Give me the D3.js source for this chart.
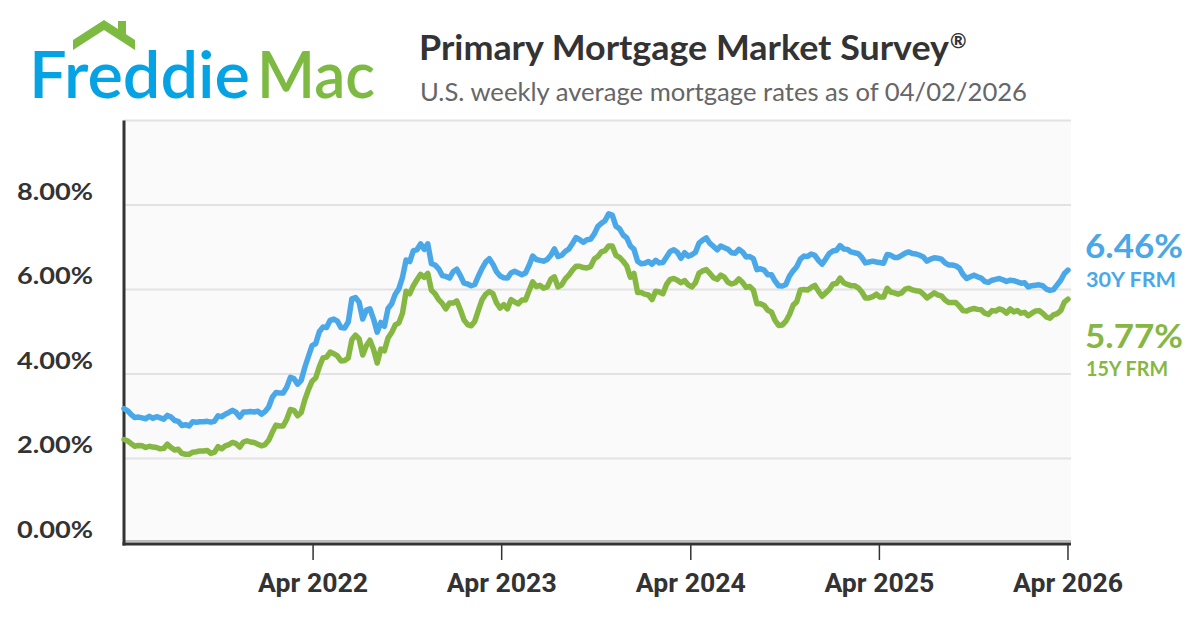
<!DOCTYPE html>
<html>
<head>
<meta charset="utf-8">
<script src="https://cdn.jsdelivr.net/npm/d3@7/dist/d3.min.js"></script>
<style>
  html, body { margin: 0; padding: 0; background: #ffffff; }
  svg { display: block; }
</style>
</head>
<body>
<svg id="chart" width="1200" height="630"></svg>
<script>
// ---------------- DATA ----------------
const startDate = "2021-04-01";   // first weekly observation (Thursday)
const lastDateLabel = "04/02/2026";

// 30-year fixed rate mortgage, weekly (%)
const rate30_2021 = [3.18,3.13,3.04,2.97,2.98,2.96,2.94,3.00,2.95,2.99,2.96,2.93,3.02,2.98,2.90,2.88,2.78,2.80,2.77,2.87,2.86,2.87,2.87,2.88,2.86,2.88,3.01,2.99,3.05,3.09,3.14,3.09,2.98,3.10,3.10,3.11,3.10,3.12,3.05,3.11];
const rate30_2022 = [3.22,3.45,3.56,3.55,3.55,3.69,3.92,3.89,3.76,3.85,4.16,4.42,4.67,4.72,5.00,5.11,5.10,5.27,5.30,5.25,5.10,5.09,5.23,5.78,5.81,5.70,5.30,5.51,5.54,5.30,4.99,5.22,5.13,5.55,5.66,5.89,6.02,6.29,6.70,6.66,6.92,6.94,7.08,6.95,7.08,6.61,6.58,6.49,6.33,6.31,6.27,6.42];
const rate30_2023 = [6.48,6.33,6.15,6.13,6.09,6.12,6.32,6.50,6.65,6.73,6.60,6.42,6.32,6.28,6.27,6.39,6.43,6.39,6.35,6.39,6.57,6.79,6.71,6.69,6.67,6.71,6.81,6.96,6.78,6.81,6.90,6.96,7.09,7.23,7.18,7.12,7.18,7.19,7.31,7.49,7.57,7.63,7.79,7.76,7.50,7.44,7.29,7.22,7.03,6.95,6.67,6.61];
const rate30_2024 = [6.62,6.66,6.60,6.69,6.63,6.64,6.77,6.90,6.94,6.88,6.74,6.87,6.79,6.82,6.88,7.10,7.17,7.22,7.09,7.02,6.94,7.03,6.99,6.95,6.87,6.86,6.95,6.89,6.77,6.78,6.73,6.47,6.49,6.46,6.35,6.35,6.20,6.09,6.08,6.12,6.32,6.44,6.54,6.72,6.79,6.78,6.84,6.81,6.69,6.60,6.72,6.85];
const rate30_2025 = [6.91,6.93,7.04,6.96,6.95,6.89,6.87,6.85,6.76,6.63,6.65,6.67,6.65,6.64,6.62,6.83,6.81,6.76,6.76,6.81,6.86,6.89,6.85,6.84,6.81,6.77,6.67,6.72,6.75,6.74,6.72,6.63,6.58,6.58,6.56,6.50,6.35,6.26,6.30,6.34,6.30,6.27,6.19,6.17,6.22,6.24,6.26,6.23,6.19,6.22,6.21,6.18,6.15];
const rate30_2026 = [6.16,6.06,6.09,6.10,6.11,6.09,6.01,5.98,6.00,6.11,6.22,6.38,6.46];

// 15-year fixed rate mortgage, weekly (%)
const rate15_2021 = [2.45,2.42,2.35,2.29,2.31,2.30,2.26,2.29,2.27,2.26,2.23,2.24,2.34,2.26,2.20,2.22,2.12,2.10,2.10,2.15,2.16,2.18,2.18,2.19,2.12,2.15,2.28,2.23,2.30,2.33,2.38,2.35,2.27,2.39,2.42,2.39,2.38,2.34,2.30,2.33];
const rate15_2022 = [2.43,2.62,2.79,2.77,2.77,2.93,3.16,3.14,3.01,3.09,3.39,3.63,3.83,3.91,4.17,4.38,4.40,4.52,4.48,4.43,4.31,4.32,4.38,4.81,4.92,4.83,4.45,4.67,4.80,4.58,4.26,4.59,4.55,4.85,4.98,5.16,5.21,5.44,5.96,5.90,6.09,6.23,6.36,6.29,6.38,5.98,5.90,5.76,5.67,5.54,5.68,5.68];
const rate15_2023 = [5.73,5.52,5.28,5.17,5.14,5.25,5.51,5.76,5.89,5.95,5.90,5.68,5.56,5.64,5.54,5.76,5.71,5.66,5.75,5.75,5.97,6.18,6.07,6.10,6.03,6.06,6.24,6.30,6.06,6.11,6.25,6.34,6.46,6.55,6.55,6.52,6.51,6.54,6.72,6.78,6.89,6.92,7.03,7.03,6.81,6.76,6.67,6.56,6.29,6.38,5.93,5.93];
const rate15_2024 = [5.89,5.87,5.76,5.96,5.94,5.90,6.12,6.24,6.26,6.22,6.16,6.21,6.11,6.06,6.16,6.39,6.44,6.47,6.38,6.28,6.24,6.34,6.29,6.17,6.13,6.16,6.25,6.17,6.05,6.07,5.99,5.66,5.66,5.62,5.51,5.47,5.27,5.15,5.16,5.25,5.41,5.63,5.71,5.99,6.00,5.99,6.05,6.10,5.96,5.84,5.92,6.00];
const rate15_2025 = [6.13,6.14,6.27,6.16,6.12,6.09,6.09,6.04,5.94,5.80,5.80,5.83,5.89,5.82,5.82,6.03,5.94,5.92,5.89,5.92,6.01,6.03,5.99,5.97,5.96,5.89,5.80,5.86,5.92,5.87,5.85,5.75,5.69,5.69,5.69,5.60,5.50,5.49,5.53,5.55,5.53,5.52,5.44,5.41,5.50,5.49,5.54,5.51,5.44,5.54,5.47,5.50,5.44];
const rate15_2026 = [5.46,5.38,5.44,5.49,5.50,5.44,5.35,5.32,5.40,5.43,5.50,5.70,5.77];

const yTickValues = [0, 2, 4, 6, 8];
const xTickDates = ["2022-04-01","2023-04-01","2024-04-01","2025-04-01","2026-04-01"];
const seriesNames = ["30Y FRM", "15Y FRM"];

// ---------------- BUILD ----------------
const rate30 = [].concat(rate30_2021, rate30_2022, rate30_2023, rate30_2024, rate30_2025, rate30_2026);
const rate15 = [].concat(rate15_2021, rate15_2022, rate15_2023, rate15_2024, rate15_2025, rate15_2026);
const parse = d3.utcParse("%Y-%m-%d");
const t0 = parse(startDate);
const dates = rate30.map((_, i) => d3.utcDay.offset(t0, 7 * i));
const data = dates.map((d, i) => ({ date: d, r30: rate30[i], r15: rate15[i] }));

const BLUE = "#4aa8e8", GREEN = "#86b743";
const LOGO_BLUE = "#05a3e4", LOGO_GREEN = "#7cba42";
const FONT = "Lato, 'Open Sans', sans-serif";

const svg = d3.select("#chart");

// ---------- logo ----------
const logo = svg.append("g");
logo.append("path")
  .attr("d", "M73,40 L104,20 L135,40 L135,50 L104,30 L73,50 Z")
  .attr("fill", LOGO_GREEN);
logo.append("rect").attr("x", 118).attr("y", 21).attr("width", 8).attr("height", 14).attr("fill", LOGO_GREEN);
logo.append("text").text("Freddie")
  .attr("x", 29).attr("y", 98)
  .attr("font-family", FONT).attr("font-size", 66).attr("font-weight", 600)
  .attr("textLength", 221).attr("lengthAdjust", "spacingAndGlyphs")
  .attr("fill", LOGO_BLUE);
logo.append("text").text("Mac")
  .attr("x", 257).attr("y", 98)
  .attr("font-family", FONT).attr("font-size", 66).attr("font-weight", 600)
  .attr("textLength", 118).attr("lengthAdjust", "spacingAndGlyphs")
  .attr("fill", LOGO_GREEN);

// ---------- titles ----------
svg.append("text")
  .attr("x", 419).attr("y", 60)
  .attr("font-family", FONT).attr("font-size", 34).attr("font-weight", 700)
  .attr("textLength", 530).attr("lengthAdjust", "spacingAndGlyphs")
  .attr("fill", "#333333")
  .text("Primary Mortgage Market Survey");
svg.append("text")
  .attr("x", 950).attr("y", 48)
  .attr("font-family", FONT).attr("font-size", 20).attr("font-weight", 700)
  .attr("fill", "#333333")
  .text("®");

svg.append("text")
  .attr("x", 420).attr("y", 101)
  .attr("font-family", FONT).attr("font-size", 25).attr("font-weight", 400)
  .attr("textLength", 607).attr("lengthAdjust", "spacingAndGlyphs")
  .attr("fill", "#666666")
  .text("U.S. weekly average mortgage rates as of " + lastDateLabel);

// ---------- scales ----------
const plotLeft = 124, plotRight = 1071, plotTop = 120.5, plotBottom = 543;
const x = d3.scaleUtc()
  .domain([t0, dates[dates.length - 1]])
  .range([plotLeft, 1068]);
const y = d3.scaleLinear().domain([0, 10]).range([plotBottom, plotTop]);

// plot background
svg.append("rect")
  .attr("x", plotLeft).attr("y", plotTop)
  .attr("width", plotRight - plotLeft).attr("height", plotBottom - plotTop)
  .attr("fill", "#fafafa");

// gridlines
svg.append("g").selectAll("line")
  .data([2, 4, 6, 8, 10])
  .join("line")
  .attr("x1", plotLeft).attr("x2", plotRight)
  .attr("y1", d => y(d)).attr("y2", d => y(d))
  .attr("stroke", "#e2e2e2").attr("stroke-width", 2);
svg.append("line")
  .attr("x1", plotLeft).attr("x2", plotRight)
  .attr("y1", plotBottom - 2).attr("y2", plotBottom - 2)
  .attr("stroke", "#bdbdbd").attr("stroke-width", 2);

// y axis
const yAxis = svg.append("g")
  .attr("transform", `translate(${plotLeft},0)`)
  .call(d3.axisLeft(y).tickValues(yTickValues).tickSize(0).tickPadding(0)
    .tickFormat(d => d.toFixed(2) + "%"));
yAxis.select(".domain").remove();
yAxis.selectAll("text")
  .attr("x", -31).attr("dy", null).attr("y", -6)
  .attr("font-family", FONT).attr("font-size", 23).attr("font-weight", 700)
  .attr("textLength", 76).attr("lengthAdjust", "spacingAndGlyphs")
  .attr("fill", "#333333");

// x axis
const xAxis = svg.append("g")
  .attr("transform", `translate(0,${plotBottom + 1})`)
  .call(d3.axisBottom(x).tickValues(xTickDates.map(parse)).tickSize(16).tickPadding(0)
    .tickFormat(d3.utcFormat("Apr %Y")));
xAxis.select(".domain").remove();
xAxis.selectAll(".tick line").attr("stroke", "#333333").attr("stroke-width", 1.5);
xAxis.selectAll("text")
  .attr("y", 48).attr("dy", null)
  .attr("font-family", "Roboto, 'Open Sans', sans-serif").attr("font-size", 25).attr("font-weight", 700)
  .attr("textLength", 110).attr("lengthAdjust", "spacingAndGlyphs")
  .attr("fill", "#333333");

// axis lines
svg.append("line")
  .attr("x1", plotLeft - 1.5).attr("x2", plotRight)
  .attr("y1", plotBottom + 1).attr("y2", plotBottom + 1)
  .attr("stroke", "#333333").attr("stroke-width", 3);
svg.append("line")
  .attr("x1", plotLeft).attr("x2", plotLeft)
  .attr("y1", plotTop).attr("y2", plotBottom + 2.5)
  .attr("stroke", "#333333").attr("stroke-width", 3);

// lines
const line30 = d3.line().x(d => x(d.date)).y(d => y(d.r30));
const line15 = d3.line().x(d => x(d.date)).y(d => y(d.r15));
svg.append("path").datum(data).attr("d", line15)
  .attr("fill", "none").attr("stroke", GREEN).attr("stroke-width", 5.5)
  .attr("stroke-linejoin", "round").attr("stroke-linecap", "round");
svg.append("path").datum(data).attr("d", line30)
  .attr("fill", "none").attr("stroke", BLUE).attr("stroke-width", 5.5)
  .attr("stroke-linejoin", "round").attr("stroke-linecap", "round");

// end labels
const last = data[data.length - 1];
const lab = svg.append("g").attr("font-family", FONT).attr("font-weight", 700);
lab.append("text").attr("x", 1085).attr("y", 258).attr("font-size", 32).attr("fill", BLUE)
  .attr("textLength", 98).attr("lengthAdjust", "spacingAndGlyphs")
  .text(last.r30.toFixed(2) + "%");
lab.append("text").attr("x", 1086).attr("y", 287).attr("font-size", 20).attr("fill", BLUE)
  .attr("textLength", 90).attr("lengthAdjust", "spacingAndGlyphs")
  .text(seriesNames[0]);
lab.append("text").attr("x", 1085).attr("y", 348).attr("font-size", 32).attr("fill", GREEN)
  .attr("textLength", 98).attr("lengthAdjust", "spacingAndGlyphs")
  .text(last.r15.toFixed(2) + "%");
lab.append("text").attr("x", 1086).attr("y", 376).attr("font-size", 20).attr("fill", GREEN)
  .attr("textLength", 82).attr("lengthAdjust", "spacingAndGlyphs")
  .text(seriesNames[1]);
</script>
</body>
</html>
